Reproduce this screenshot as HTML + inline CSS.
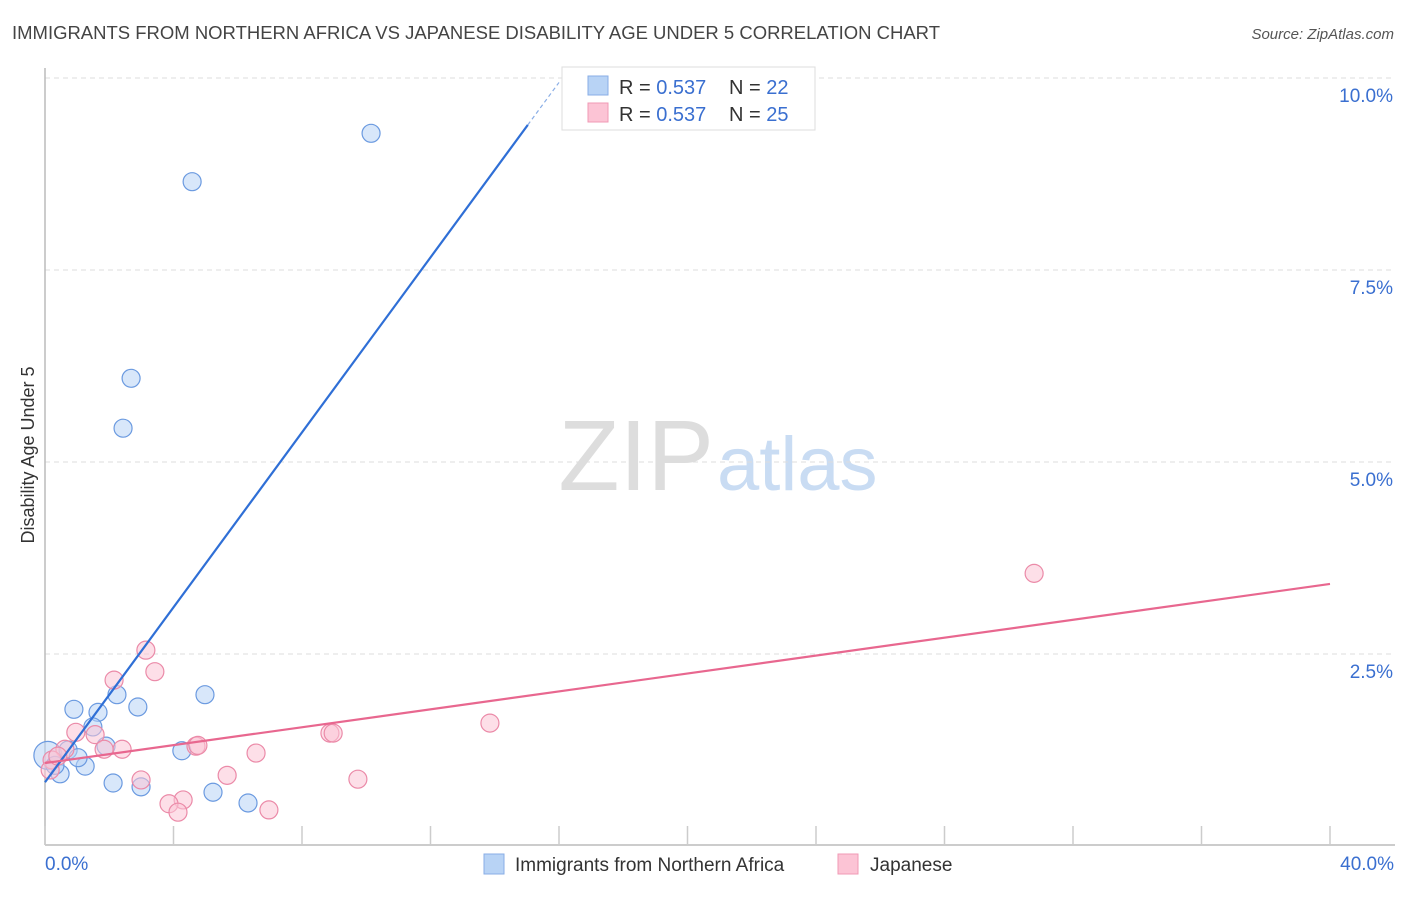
<!DOCTYPE html>
<html><head><meta charset="utf-8"><style>
body{margin:0;background:#fff;font-family:"Liberation Sans",sans-serif;}
svg text{font-family:"Liberation Sans",sans-serif;}
</style></head><body>
<svg id="chart" width="1406" height="892" xmlns="http://www.w3.org/2000/svg">
<text x="12" y="39" font-size="18" fill="#444" textLength="928" lengthAdjust="spacingAndGlyphs">IMMIGRANTS FROM NORTHERN AFRICA VS JAPANESE DISABILITY AGE UNDER 5 CORRELATION CHART</text>
<text x="1394" y="39" font-size="15" fill="#555" font-style="italic" text-anchor="end">Source: ZipAtlas.com</text>
<text x="714" y="490" font-size="100" fill="#ddd" text-anchor="end" font-family="Liberation Serif">ZIP</text>
<text x="717" y="490" font-size="76" fill="#c9dcf3">atlas</text>
<g id="grid"></g>
<line x1="45" y1="68" x2="45" y2="845" stroke="#bbb" stroke-width="1.5"/>
<line x1="45" y1="845" x2="1395" y2="845" stroke="#bbb" stroke-width="1.5"/>
<g id="xticks"></g>
<text x="34" y="455" font-size="18" fill="#333" text-anchor="middle" transform="rotate(-90 34 455)">Disability Age Under 5</text>
<text x="45" y="870" font-size="19" fill="#3a6fd0">0.0%</text>
<text x="1394" y="870" font-size="19" fill="#3a6fd0" text-anchor="end">40.0%</text>
<g id="points"></g>
<g id="trends"></g>
<g>
<rect x="562" y="67" width="253" height="63" fill="#fff" stroke="#ddd"/>
<rect x="588" y="76" width="20" height="19" fill="#b8d3f5" stroke="#88aee6"/>
<rect x="588" y="103" width="20" height="19" fill="#fcc4d5" stroke="#f09ab5"/>
<text x="619" y="94" font-size="20" fill="#333">R = <tspan fill="#3a6fd0">0.537</tspan></text>
<text x="729" y="94" font-size="20" fill="#333">N = <tspan fill="#3a6fd0">22</tspan></text>
<text x="619" y="121" font-size="20" fill="#333">R = <tspan fill="#3a6fd0">0.537</tspan></text>
<text x="729" y="121" font-size="20" fill="#333">N = <tspan fill="#3a6fd0">25</tspan></text>
</g>
<g>
<rect x="484" y="854" width="20" height="20" fill="#b8d3f5" stroke="#88aee6"/>
<text x="515" y="871" font-size="19" fill="#333">Immigrants from Northern Africa</text>
<rect x="838" y="854" width="20" height="20" fill="#fcc4d5" stroke="#f09ab5"/>
<text x="870" y="871" font-size="19" fill="#333">Japanese</text>
</g>
</svg>
<script>
const yTicks=[2.5,5.0,7.5,10.0];
const yTickLabels=["2.5%","5.0%","7.5%","10.0%"];
const xTickVals=[0,4,8,12,16,20,24,28,32,36,40];
const blueX=[10.15,4.58,2.68,2.43,0.90,1.65,2.24,2.89,4.98,1.49,1.90,1.25,2.12,2.99,5.23,6.32,4.26,0.47,0.09,0.72,0.31,1.03];
const blueY=[9.28,8.65,6.09,5.44,1.78,1.74,1.97,1.81,1.97,1.55,1.30,1.04,0.82,0.77,0.70,0.56,1.24,0.94,1.18,1.25,1.05,1.15];
const pinkX=[30.79,3.14,3.42,2.15,0.96,1.56,2.40,4.70,6.57,8.87,13.85,5.67,9.74,2.99,4.30,3.86,4.14,6.97,0.62,0.22,0.16,1.84,4.76,8.97,0.40];
const pinkY=[3.55,2.55,2.27,2.16,1.48,1.45,1.26,1.30,1.21,1.47,1.60,0.92,0.87,0.86,0.60,0.55,0.44,0.47,1.26,1.12,0.99,1.26,1.31,1.47,1.17];
const blueTrend=[0.83,0.5695];
const pinkTrend=[1.08,0.0583];
const NS="http://www.w3.org/2000/svg";
const xs=v=>45+v/40*1285;
const ys=v=>846-v/2.5*192;
function mk(tag,attrs,parent){const e=document.createElementNS(NS,tag);for(const k in attrs)e.setAttribute(k,attrs[k]);parent.appendChild(e);return e;}
const grid=document.getElementById('grid');
yTicks.forEach((t,i)=>{
 const l=mk('line',{x1:45,x2:1395,y1:ys(t),y2:ys(t),stroke:'#ddd','stroke-dasharray':'5,4'},grid);
 
 
 const tx=mk('text',{x:1393,y:ys(t)+24,'font-size':19,fill:'#3a6fd0','text-anchor':'end'},grid);
 tx.textContent=yTickLabels[i];
 
 
});
const xt=document.getElementById('xticks');
xTickVals.forEach(v=>{
 const l=mk('line',{x1:xs(v),x2:xs(v),y1:826,y2:845,stroke:'#ccc','stroke-width':1.5},xt);
 
 
});
const pts=document.getElementById('points');
function draw(X,Y,fill,stroke,name){
 X.forEach((x,i)=>{
  const r=(x<0.2&&name==='blue-point')?14:9;
  const c=mk('circle',{cx:xs(x),cy:ys(Y[i]),r:r,fill:fill,'fill-opacity':0.55,stroke:stroke,'stroke-width':1.2},pts);
  
  
 });
}
draw(blueX,blueY,'#b8d3f5','#6b9ae0','blue-point');
draw(pinkX,pinkY,'#fcc4d5','#eb8aa8','pink-point');
const tr=document.getElementById('trends');
const bEnd=15.03, bDash=16.0;
const bl=mk('line',{x1:xs(0),y1:ys(blueTrend[0]),x2:xs(bEnd),y2:ys(blueTrend[0]+blueTrend[1]*bEnd),stroke:'#2f6fd6','stroke-width':2.2},tr);


const bd=mk('line',{x1:xs(bEnd),y1:ys(blueTrend[0]+blueTrend[1]*bEnd),x2:xs(bDash),y2:ys(blueTrend[0]+blueTrend[1]*bDash),stroke:'#8aaee6','stroke-width':1.2,'stroke-dasharray':'4,3'},tr);


const pl=mk('line',{x1:xs(0),y1:ys(pinkTrend[0]),x2:xs(40),y2:ys(pinkTrend[0]+pinkTrend[1]*40),stroke:'#e8678f','stroke-width':2.2},tr);


</script>
</body></html>
